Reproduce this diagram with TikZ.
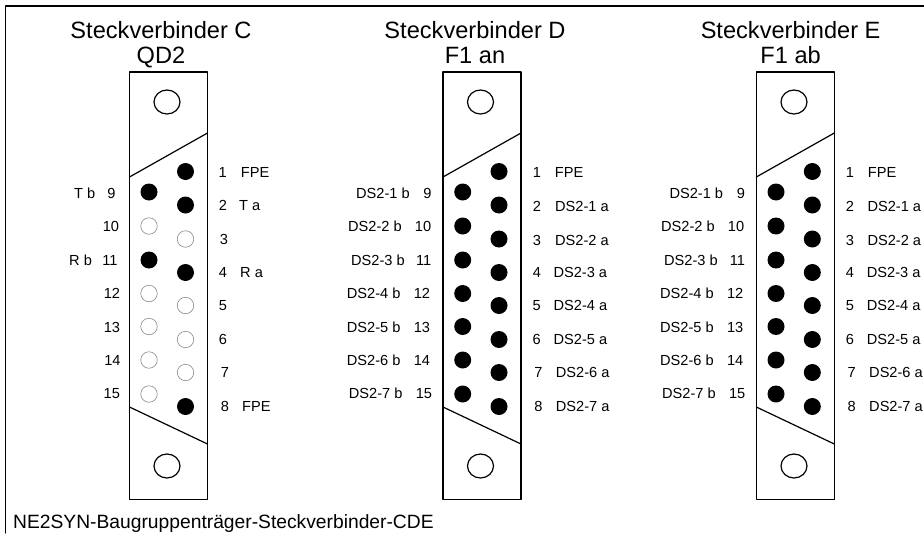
\documentclass[tikz,border=0pt]{standalone}
\usepackage{fontspec}
\setmainfont{Liberation Sans}
\usetikzlibrary{shapes.geometric}
\tikzset{
  pinon/.style={circle,fill=black,inner sep=0pt,minimum size=17pt},
  pinoff/.style={circle,draw=black!45,line width=0.6pt,inner sep=0pt,minimum size=16.5pt},
  screwhole/.style={ellipse,draw,line width=1.2pt,inner sep=0pt,minimum width=26pt,minimum height=24pt},
  bodybox/.style={draw,line width=1.2pt,inner sep=0pt,minimum width=78pt,minimum height=427.5pt},
  titletxt/.style={inner sep=0pt,anchor=north,align=center,font=\fontsize{23.6}{24.5}\selectfont},
  numtxt/.style={inner sep=0pt,text height=10.4pt,text depth=0pt,font=\fontsize{14.6}{15}\selectfont},
  sigtxt/.style={numtxt,anchor=west},
}
\begin{document}
\begin{tikzpicture}[line cap=round,line join=round,x=1pt,y=-1pt]
\useasboundingbox (0,0) rectangle (924,533);
\draw [line width=1.2pt] (924,6) -- (5.5,6) -- (5.5,533);
\node [inner sep=0pt,anchor=west,text height=13.8pt,text depth=0pt,font=\fontsize{19.25}{20}\selectfont] (caption) at (13,521.5) {NE2SYN-Baugruppenträger-Steckverbinder-CDE};
% Steckverbinder C
\node [titletxt] (titleC) at (161,21.5) {Steckverbinder C\\QD2};
\node [bodybox] (bodyC) at (168.5,285.75) {};
\draw [line width=1.2pt] (129.5,177) -- (207.5,133);
\draw [line width=1.2pt] (129.5,407) -- (207.5,444);
\node [screwhole] (holeCa) at (167,102) {};
\node [screwhole] (holeCb) at (167,466) {};
\node [pinon] (c1) at (185.5,171.5) {};
\node [pinon] (c2) at (185.5,205) {};
\node [pinoff] (c3) at (185.5,239) {};
\node [pinon] (c4) at (185.5,272.5) {};
\node [pinoff] (c5) at (185.5,305.5) {};
\node [pinoff] (c6) at (185.5,339.5) {};
\node [pinoff] (c7) at (185.5,372.5) {};
\node [pinon] (c8) at (185.5,406.5) {};
\node [pinon] (c9) at (149,192) {};
\node [pinoff] (c10) at (149,226) {};
\node [pinon] (c11) at (149,260) {};
\node [pinoff] (c12) at (149,293.5) {};
\node [pinoff] (c13) at (149,326.5) {};
\node [pinoff] (c14) at (149,360) {};
\node [pinoff] (c15) at (149,394) {};
\node [numtxt] (nc1) at (222.7,172) {1};
\node [numtxt] (nc2) at (223,205.5) {2};
\node [numtxt] (nc3) at (224,239) {3};
\node [numtxt] (nc4) at (223,272) {4};
\node [numtxt] (nc5) at (223,305) {5};
\node [numtxt] (nc6) at (223,339) {6};
\node [numtxt] (nc7) at (225,372) {7};
\node [numtxt] (nc8) at (225,406) {8};
\node [numtxt] (nc9) at (111.5,193) {9};
\node [numtxt] (nc10) at (111,226.5) {10};
\node [numtxt] (nc11) at (110,260) {11};
\node [numtxt] (nc12) at (112,293) {12};
\node [numtxt] (nc13) at (112,327) {13};
\node [numtxt] (nc14) at (112.5,360.5) {14};
\node [numtxt] (nc15) at (111.8,393.5) {15};
\node [sigtxt] (sc1) at (240.7,172) {FPE};
\node [sigtxt] (sc2) at (239,205.5) {T a};
\node [sigtxt] (sc4) at (240,272) {R a};
\node [sigtxt] (sc8) at (242,406) {FPE};
\node [sigtxt] (sc9) at (74,193) {T b};
\node [sigtxt] (sc11) at (69,260) {R b};
% Steckverbinder D
\node [titletxt] (titleD) at (475,21.5) {Steckverbinder D\\F1 an};
\node [bodybox] (bodyD) at (482,285.75) {};
\draw [line width=1.2pt] (443,177) -- (521,133);
\draw [line width=1.2pt] (443,407) -- (521,444);
\node [screwhole] (holeDa) at (480.5,102) {};
\node [screwhole] (holeDb) at (480.5,466) {};
\node [pinon] (d1) at (499,171.5) {};
\node [pinon] (d2) at (499,205) {};
\node [pinon] (d3) at (499,239) {};
\node [pinon] (d4) at (499,272.5) {};
\node [pinon] (d5) at (499,305.5) {};
\node [pinon] (d6) at (499,339.5) {};
\node [pinon] (d7) at (499,372.5) {};
\node [pinon] (d8) at (499,406.5) {};
\node [pinon] (d9) at (462.7,192) {};
\node [pinon] (d10) at (462.7,226) {};
\node [pinon] (d11) at (462.7,260) {};
\node [pinon] (d12) at (462.7,293.5) {};
\node [pinon] (d13) at (462.7,326.5) {};
\node [pinon] (d14) at (462.7,360) {};
\node [pinon] (d15) at (462.7,394) {};
\node [numtxt] (nd1) at (537,172) {1};
\node [numtxt] (nd2) at (537,206) {2};
\node [numtxt] (nd3) at (537,240) {3};
\node [numtxt] (nd4) at (537,272) {4};
\node [numtxt] (nd5) at (536.7,305) {5};
\node [numtxt] (nd6) at (536.7,339) {6};
\node [numtxt] (nd7) at (538.4,372) {7};
\node [numtxt] (nd8) at (538.4,406) {8};
\node [numtxt] (nd9) at (427.4,193) {9};
\node [numtxt] (nd10) at (423,226.5) {10};
\node [numtxt] (nd11) at (423.7,260) {11};
\node [numtxt] (nd12) at (421.9,293) {12};
\node [numtxt] (nd13) at (421.9,327) {13};
\node [numtxt] (nd14) at (421.9,360.5) {14};
\node [numtxt] (nd15) at (423.9,393.5) {15};
\node [sigtxt] (sd1) at (554.7,172) {FPE};
\node [sigtxt] (sd2) at (555,206) {DS2-1 a};
\node [sigtxt] (sd3) at (555,240) {DS2-2 a};
\node [sigtxt] (sd4) at (553.3,272) {DS2-3 a};
\node [sigtxt] (sd5) at (553.4,305) {DS2-4 a};
\node [sigtxt] (sd6) at (553.4,339) {DS2-5 a};
\node [sigtxt] (sd7) at (555.7,372) {DS2-6 a};
\node [sigtxt] (sd8) at (555.7,406) {DS2-7 a};
\node [sigtxt] (sd9) at (356,193) {DS2-1 b};
\node [sigtxt] (sd10) at (348,226.5) {DS2-2 b};
\node [sigtxt] (sd11) at (351,260) {DS2-3 b};
\node [sigtxt] (sd12) at (346.7,293) {DS2-4 b};
\node [sigtxt] (sd13) at (346.7,327) {DS2-5 b};
\node [sigtxt] (sd14) at (346.7,360.5) {DS2-6 b};
\node [sigtxt] (sd15) at (348.7,393.5) {DS2-7 b};
% Steckverbinder E
\node [titletxt] (titleE) at (790.6,21.5) {Steckverbinder E\\F1 ab};
\node [bodybox] (bodyE) at (795.3,285.75) {};
\draw [line width=1.2pt] (756.3,177) -- (834.3,133);
\draw [line width=1.2pt] (756.3,407) -- (834.3,444);
\node [screwhole] (holeEa) at (794,102) {};
\node [screwhole] (holeEb) at (794,466) {};
\node [pinon] (e1) at (812.3,171.5) {};
\node [pinon] (e2) at (812.3,205) {};
\node [pinon] (e3) at (812.3,239) {};
\node [pinon] (e4) at (812.3,272.5) {};
\node [pinon] (e5) at (812.3,305.5) {};
\node [pinon] (e6) at (812.3,339.5) {};
\node [pinon] (e7) at (812.3,372.5) {};
\node [pinon] (e8) at (812.3,406.5) {};
\node [pinon] (e9) at (776,192) {};
\node [pinon] (e10) at (776,226) {};
\node [pinon] (e11) at (776,260) {};
\node [pinon] (e12) at (776,293.5) {};
\node [pinon] (e13) at (776,326.5) {};
\node [pinon] (e14) at (776,360) {};
\node [pinon] (e15) at (776,394) {};
\node [numtxt] (ne1) at (850,172) {1};
\node [numtxt] (ne2) at (850,206) {2};
\node [numtxt] (ne3) at (850,240) {3};
\node [numtxt] (ne4) at (850,272) {4};
\node [numtxt] (ne5) at (850,305) {5};
\node [numtxt] (ne6) at (850,339) {6};
\node [numtxt] (ne7) at (851.7,372) {7};
\node [numtxt] (ne8) at (851.7,406) {8};
\node [numtxt] (ne9) at (741,193) {9};
\node [numtxt] (ne10) at (736,226.5) {10};
\node [numtxt] (ne11) at (737.5,260) {11};
\node [numtxt] (ne12) at (735.2,293) {12};
\node [numtxt] (ne13) at (735.2,327) {13};
\node [numtxt] (ne14) at (735.2,360.5) {14};
\node [numtxt] (ne15) at (737.2,393.5) {15};
\node [sigtxt] (se1) at (867.7,172) {FPE};
\node [sigtxt] (se2) at (867.3,206) {DS2-1 a};
\node [sigtxt] (se3) at (867.3,240) {DS2-2 a};
\node [sigtxt] (se4) at (866.7,272) {DS2-3 a};
\node [sigtxt] (se5) at (866.7,305) {DS2-4 a};
\node [sigtxt] (se6) at (866.7,339) {DS2-5 a};
\node [sigtxt] (se7) at (869,372) {DS2-6 a};
\node [sigtxt] (se8) at (869,406) {DS2-7 a};
\node [sigtxt] (se9) at (669.3,193) {DS2-1 b};
\node [sigtxt] (se10) at (661,226.5) {DS2-2 b};
\node [sigtxt] (se11) at (664,260) {DS2-3 b};
\node [sigtxt] (se12) at (660,293) {DS2-4 b};
\node [sigtxt] (se13) at (660,327) {DS2-5 b};
\node [sigtxt] (se14) at (660,360.5) {DS2-6 b};
\node [sigtxt] (se15) at (662,393.5) {DS2-7 b};
\end{tikzpicture}
\end{document}
